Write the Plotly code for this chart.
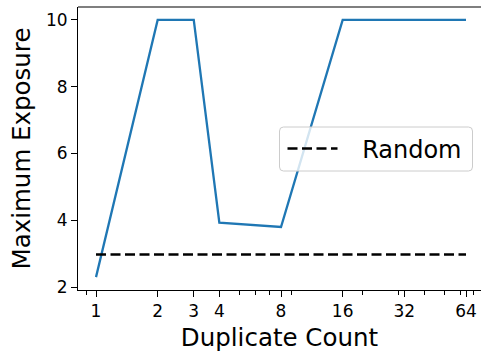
import math
import plotly.graph_objects as go

dup_counts = [1, 2, 3, 4, 8, 16, 32, 64]
max_exposure = [2.3, 10, 10, 3.93, 3.8, 10, 10, 10]
random_level = [2.98] * len(dup_counts)
x_tick_vals = [1, 2, 3, 4, 8, 16, 32, 64]
x_tick_text = ["1", "2", "3", "4", "8", "16", "32", "64"]
x_minor_vals = [0.9, 5, 6, 7, 9, 20, 30, 40, 50, 60, 70]
y_tick_vals = [2, 4, 6, 8, 10]

W, H = 481, 352
ML, MR, MT, MB = 78, 0, 7, 62
PW, PH = W - ML - MR, H - MT - MB

FONT = "DejaVu Sans"

fig = go.Figure()
fig.add_trace(go.Scatter(
    x=dup_counts, y=max_exposure, mode="lines",
    line=dict(color="#1f77b4", width=2.3), showlegend=False,
))
fig.add_trace(go.Scatter(
    x=dup_counts, y=random_level, mode="lines", name="\u2002\u00a0Random",
    line=dict(color="black", width=2.5, dash="10px,4.5px"),
))

def px2paper_x(px):
    return (px - ML) / PW

def px2paper_y(py):
    return 1 - (py - MT) / PH

x0, x1 = px2paper_x(279.5), px2paper_x(472.5)
y0, y1 = px2paper_y(171), px2paper_y(127)
rx, ry = 4 / PW, 4 / PH
path = (f"M{x0+rx},{y1} L{x1-rx},{y1} Q{x1},{y1} {x1},{y1-ry} "
        f"L{x1},{y0+ry} Q{x1},{y0} {x1-rx},{y0} L{x0+rx},{y0} "
        f"Q{x0},{y0} {x0},{y0+ry} L{x0},{y1-ry} Q{x0},{y1} {x0+rx},{y1} Z")

fig.update_layout(
    width=W, height=H,
    margin=dict(l=ML, r=MR, t=MT, b=MB, pad=0),
    plot_bgcolor="white", paper_bgcolor="white",
    font=dict(family=FONT, color="black"),
    shapes=[
        dict(type="path", path=path, xref="paper", yref="paper",
             fillcolor="rgba(255,255,255,0.8)",
             line=dict(color="rgba(204,204,204,1)", width=1), layer="above"),
        dict(type="line", xref="paper", yref="paper", x0=0, x1=1, y0=1, y1=1,
             line=dict(color="black", width=1.1), layer="above"),
    ],
    legend=dict(
        x=px2paper_x(282.5), xanchor="left",
        y=px2paper_y(149), yanchor="middle",
        bgcolor="rgba(0,0,0,0)", borderwidth=0,
        font=dict(family=FONT, size=24, color="black"),
        itemwidth=50,
    ),
    showlegend=True,
)

fig.update_xaxes(
    type="log",
    range=[math.log10(2 ** -0.292), math.log10(2 ** 6.243)],
    tickmode="array", tickvals=x_tick_vals, ticktext=x_tick_text,
    ticks="outside", ticklen=6, tickwidth=1.1, tickcolor="black",
    tickfont=dict(family=FONT, size=17, color="black"),
    showline=True, linecolor="black", linewidth=1.1, mirror=False,
    showgrid=False, zeroline=False,
    minor=dict(tickmode="array", tickvals=x_minor_vals, ticks="outside",
               ticklen=3.5, tickwidth=0.9, tickcolor="black", showgrid=False),
    title=dict(text="Duplicate Count", font=dict(family=FONT, size=24.5, color="black"),
               standoff=10),
)
fig.update_yaxes(
    range=[1.915, 10.385],
    tickmode="array", tickvals=y_tick_vals,
    ticks="outside", ticklen=6, tickwidth=1.1, tickcolor="black",
    tickfont=dict(family=FONT, size=17, color="black"),
    showline=True, linecolor="black", linewidth=1.1, mirror=False,
    showgrid=False, zeroline=False,
    title=dict(text="Maximum Exposure", font=dict(family=FONT, size=24.5, color="black"),
               standoff=8),
)

fig.write_html("out.html")
